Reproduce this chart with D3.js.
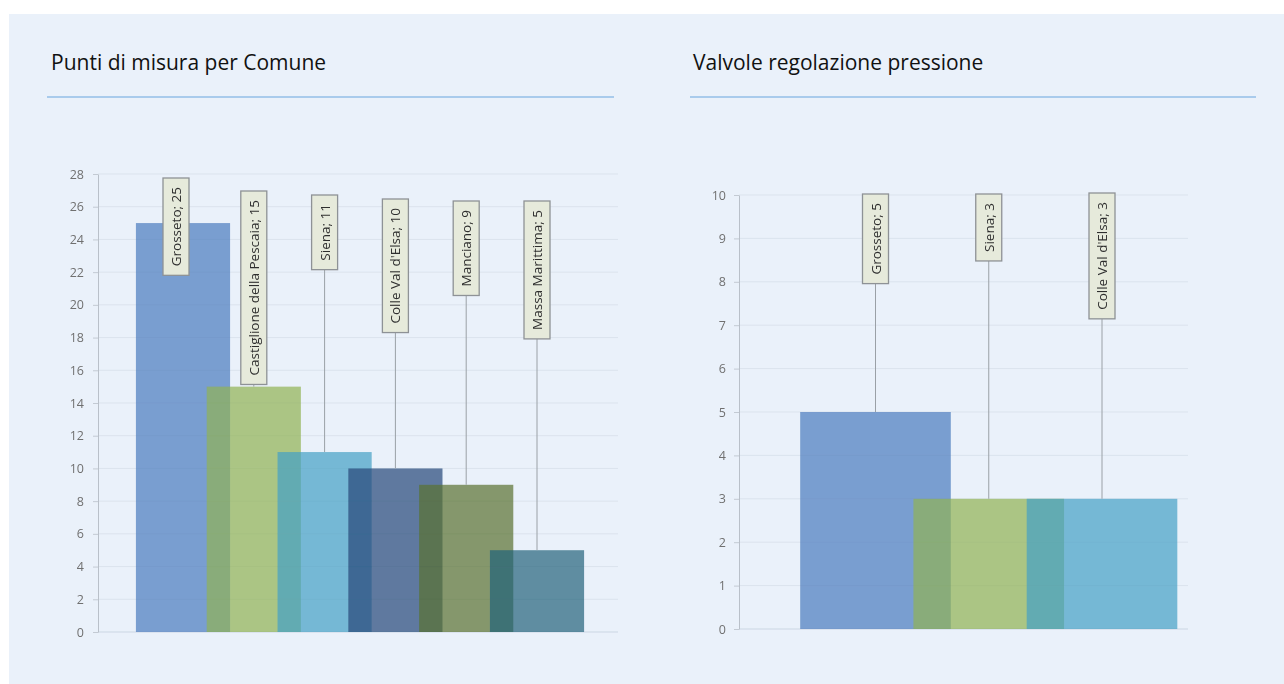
<!DOCTYPE html>
<html>
<head>
<meta charset="utf-8">
<script src="https://cdn.jsdelivr.net/npm/d3@7"></script>
<style>
  html, body { margin: 0; padding: 0; background: #ffffff; }
  svg { display: block; }
</style>
</head>
<body>
<svg id="chart" width="1284" height="684"></svg>
<script>
// Punti di misura per Comune
const comuniPunti = ["Grosseto", "Castiglione della Pescaia", "Siena", "Colle Val d'Elsa", "Manciano", "Massa Marittima"];
const puntiValues = [25, 15, 11, 10, 9, 5];
const puntiTicks = [0, 2, 4, 6, 8, 10, 12, 14, 16, 18, 20, 22, 24, 26, 28];

// Valvole regolazione pressione
const comuniValvole = ["Grosseto", "Siena", "Colle Val d'Elsa"];
const valvoleValues = [5, 3, 3];
const valvoleTicks = [0, 1, 2, 3, 4, 5, 6, 7, 8, 9, 10];

// series palette (drawn semi-transparent so overlapping bars darken)
const seriesColors = ["#4a7abe", "#90b253", "#44a0c4", "#234777", "#58702f", "#22627b"];

const svg = d3.select("#chart");

const defs = svg.append("defs");
defs.append("filter").attr("id", "soft")
  .attr("x", "-5%").attr("y", "-5%").attr("width", "110%").attr("height", "110%")
  .append("feGaussianBlur").attr("stdDeviation", 0.45);

// background panel
svg.append("rect")
  .attr("x", 9).attr("y", 14).attr("width", 1275).attr("height", 670)
  .attr("fill", "#eaf1fa");

function header(text, x, lineX1, lineX2) {
  svg.append("text")
    .attr("x", x).attr("y", 70)
    .attr("font-family", "'Open Sans', 'Noto Sans', sans-serif")
    .attr("font-size", 21)
    .attr("fill", "#111")
    .text(text);
  svg.append("line")
    .attr("x1", lineX1).attr("x2", lineX2)
    .attr("y1", 97).attr("y2", 97)
    .attr("stroke", "#a9cbec").attr("stroke-width", 2);
}

function drawBars(opt) {
  const y = d3.scaleLinear().domain([0, d3.max(opt.ticks)]).range([opt.bottom, opt.top]);
  const x = d3.scalePoint().domain(opt.names).range([opt.firstCenter, opt.lastCenter]);
  const barW = x.step() * 1.33;

  const g = svg.append("g").attr("filter", "url(#soft)");

  // horizontal gridlines
  g.append("g").selectAll("line").data(opt.ticks.slice(1)).join("line")
    .attr("x1", opt.left).attr("x2", opt.right)
    .attr("y1", d => y(d)).attr("y2", d => y(d))
    .attr("stroke", "#dbe3ed").attr("stroke-width", 1);

  // baseline
  g.append("line")
    .attr("x1", opt.left).attr("x2", opt.right)
    .attr("y1", y(0)).attr("y2", y(0))
    .attr("stroke", "#cbd6e3");

  // y axis
  const axis = d3.axisLeft(y).tickValues(opt.ticks).tickSize(5).tickSizeOuter(0).tickPadding(opt.pad);
  const ax = g.append("g").attr("transform", `translate(${opt.left},0)`).call(axis);
  ax.select(".domain").attr("stroke", "#b9c0c9");
  ax.selectAll(".tick line").attr("stroke", "#c3cad3");
  ax.selectAll(".tick text")
    .attr("fill", "#707070")
    .attr("font-family", "'Open Sans', 'Noto Sans', sans-serif")
    .attr("font-size", 12.5);

  // bars
  g.append("g").selectAll("rect").data(opt.values).join("rect")
    .attr("x", (d, i) => x(opt.names[i]) - barW / 2)
    .attr("y", d => y(d))
    .attr("width", barW)
    .attr("height", d => y(0) - y(d))
    .attr("fill", (d, i) => seriesColors[i])
    .attr("fill-opacity", 0.7);

  // rotated value callouts with leader lines
  const cg = g.append("g");
  opt.names.forEach((name, i) => {
    const v = opt.values[i];
    const cx = x(name) + (opt.calloutDx ? opt.calloutDx[i] : 0);
    const top = opt.top + opt.calloutDrop[i];
    const label = cg.append("text")
      .attr("font-family", "'Open Sans', 'Noto Sans', sans-serif")
      .attr("font-size", 13.5)
      .attr("fill", "#2f2f2f")
      .attr("text-anchor", "middle")
      .attr("dominant-baseline", "central")
      .text(`${name}; ${v}`);
    const len = label.node().getComputedTextLength();
    const boxH = len + 18;
    const boxW = 26;
    const bottom = top + boxH;
    if (bottom < y(v)) {
      cg.insert("line", "text")
        .attr("x1", x(name)).attr("x2", x(name))
        .attr("y1", bottom).attr("y2", y(v))
        .attr("stroke", "#9aa0a6").attr("stroke-width", 1);
    }
    cg.insert("rect", "text")
      .attr("x", cx - boxW / 2).attr("y", top)
      .attr("width", boxW).attr("height", boxH)
      .attr("fill", "#e6eadb")
      .attr("stroke", "#8e9296").attr("stroke-width", 1.3);
    label.attr("transform", `translate(${cx},${top + boxH / 2}) rotate(-90)`);
  });
}

header("Punti di misura per Comune", 51, 47, 614);
header("Valvole regolazione pressione", 693, 690, 1256);

drawBars({
  names: comuniPunti, values: puntiValues, ticks: puntiTicks,
  left: 98, right: 618, top: 174, bottom: 632,
  firstCenter: 183, lastCenter: 537, pad: 9,
  calloutDrop: [4, 17, 21, 25, 27, 27],
  calloutDx: [-7, 0, 0, 0, 0, 0]
});

drawBars({
  names: comuniValvole, values: valvoleValues, ticks: valvoleTicks,
  left: 739, right: 1188, top: 195, bottom: 629,
  firstCenter: 875.5, lastCenter: 1102, pad: 8,
  calloutDrop: [-1, -1, -2]
});
</script>
</body>
</html>
